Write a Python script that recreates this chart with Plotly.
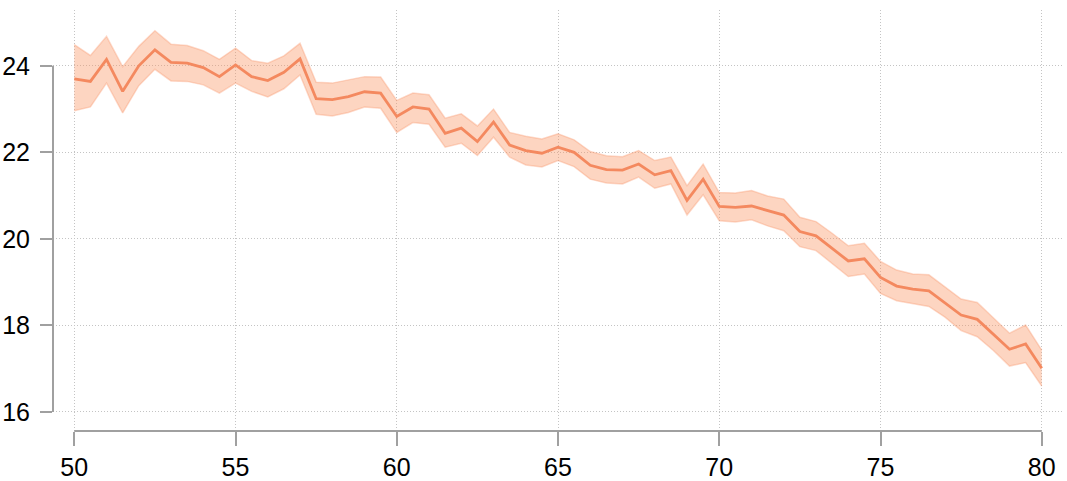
import plotly.graph_objects as go

x_vals = [50 + 0.5 * i for i in range(61)]

mean_vals = [23.70, 23.64, 24.15, 23.41, 24.00, 24.37, 24.08, 24.06, 23.96, 23.75,
             24.02, 23.75, 23.66, 23.85, 24.16, 23.24, 23.22, 23.29, 23.40, 23.37,
             22.83, 23.05, 23.00, 22.44, 22.56, 22.25, 22.70, 22.17, 22.04, 21.98,
             22.12, 22.00, 21.70, 21.60, 21.59, 21.73, 21.48, 21.58, 20.89, 21.38,
             20.75, 20.73, 20.76, 20.65, 20.55, 20.17, 20.07, 19.78, 19.49, 19.54,
             19.11, 18.91, 18.84, 18.80, 18.53, 18.24, 18.14, 17.80, 17.45, 17.57,
             17.01]

upper_vals = [24.49, 24.24, 24.68, 23.98, 24.45, 24.81, 24.50, 24.47, 24.35, 24.15,
              24.41, 24.12, 24.06, 24.23, 24.52, 23.62, 23.60, 23.68, 23.75, 23.74,
              23.20, 23.37, 23.33, 22.79, 22.89, 22.61, 23.00, 22.46, 22.37, 22.31,
              22.43, 22.29, 22.02, 21.92, 21.90, 22.04, 21.81, 21.89, 21.23, 21.73,
              21.07, 21.06, 21.12, 20.99, 20.92, 20.50, 20.40, 20.13, 19.84, 19.90,
              19.48, 19.28, 19.19, 19.17, 18.90, 18.61, 18.53, 18.17, 17.82, 18.01,
              17.43]

lower_vals = [22.96, 23.05, 23.60, 22.91, 23.54, 23.92, 23.65, 23.64, 23.56, 23.37,
              23.60, 23.41, 23.28, 23.47, 23.79, 22.88, 22.84, 22.92, 23.05, 23.02,
              22.46, 22.69, 22.65, 22.12, 22.21, 21.93, 22.35, 21.89, 21.71, 21.66,
              21.81, 21.67, 21.38, 21.29, 21.27, 21.43, 21.17, 21.27, 20.55, 21.02,
              20.42, 20.39, 20.44, 20.30, 20.19, 19.82, 19.73, 19.44, 19.13, 19.19,
              18.74, 18.57, 18.50, 18.44, 18.19, 17.88, 17.74, 17.42, 17.06, 17.14,
              16.60]

x_ticks = [50, 55, 60, 65, 70, 75, 80]
y_ticks = [16, 18, 20, 22, 24]

LINE = "#f4895f"
FILL = "rgba(250,150,100,0.40)"
EDGE = "rgba(248,150,105,0.35)"
SPINE = "#a0a0a0"
GRID = "#c4c4c4"

fig = go.Figure()
fig.add_trace(go.Scatter(x=x_vals, y=lower_vals, mode="lines",
                         line=dict(color=EDGE, width=1.5), showlegend=False,
                         hoverinfo="skip"))
fig.add_trace(go.Scatter(x=x_vals, y=upper_vals, mode="lines", fill="tonexty",
                         fillcolor=FILL, line=dict(color=EDGE, width=1.5),
                         showlegend=False, hoverinfo="skip"))
fig.add_trace(go.Scatter(x=x_vals, y=mean_vals, mode="lines",
                         line=dict(color=LINE, width=2.8), showlegend=False))

font = dict(family="Liberation Sans, Arial, sans-serif", size=25, color="black")

fig.update_layout(
    width=1067, height=481,
    margin=dict(l=53, r=3, t=10, b=50),
    plot_bgcolor="white", paper_bgcolor="white",
    font=font,
    xaxis=dict(range=[49.34, 80.69], tickvals=x_ticks, ticktext=[str(v) for v in x_ticks],
               automargin=False,
               showline=False, zeroline=False, showgrid=True, gridcolor=GRID,
               griddash="1px,2px", gridwidth=1, ticks="outside", ticklen=14, tickwidth=2,
               tickcolor=SPINE, tickfont=font, ticklabelstandoff=0),
    yaxis=dict(range=[15.56, 25.29], tickvals=y_ticks, ticktext=[str(v) for v in y_ticks],
               automargin=False,
               showline=False, zeroline=False, showgrid=True, gridcolor=GRID,
               griddash="1px,2px", gridwidth=1, ticks="outside", ticklen=12, tickwidth=2,
               tickcolor=SPINE, tickfont=font, ticklabelstandoff=5),
    shapes=[
        dict(type="line", xref="x", yref="paper", x0=min(x_ticks), x1=max(x_ticks),
             y0=0, y1=0, line=dict(color=SPINE, width=2)),
        dict(type="line", xref="paper", yref="y", x0=0, x1=0,
             y0=min(y_ticks), y1=max(y_ticks), line=dict(color=SPINE, width=2)),
    ],
)

fig.write_html("out.html", config={"displayModeBar": False},
               post_script="document.body.style.margin='0';document.body.style.overflow='hidden';")
